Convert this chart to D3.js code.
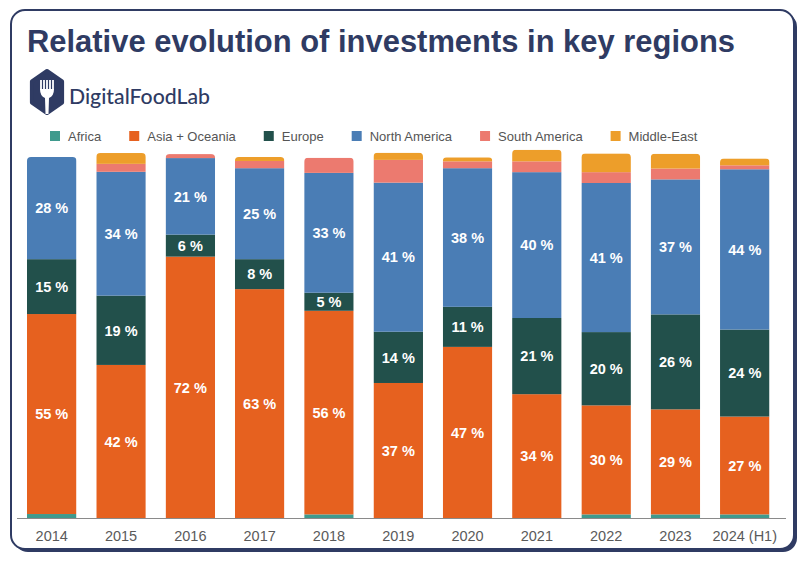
<!DOCTYPE html>
<html>
<head>
<meta charset="utf-8">
<script src="https://cdn.jsdelivr.net/npm/d3@7"></script>
<style>
  html, body { margin: 0; padding: 0; background: #ffffff; }
  svg { display: block; }
</style>
</head>
<body>
<div id="chart"></div>
<script>
// ---- Data (percent share of investments by region) ----
const years = ["2014", "2015", "2016", "2017", "2018", "2019", "2020", "2021", "2022", "2023", "2024 (H1)"];
const seriesNames = ["Africa", "Asia + Oceania", "Europe", "North America", "South America", "Middle-East"];
const africa       = [1.1, 0,    0,    0,    1.0,  0,    0,    0,    1.0,  1.0,  1.0];
const asiaOceania  = [55.4, 42.4, 72.4, 63.4, 56.4, 37.4, 47.4, 34.3, 30.2, 29.1, 27.1];
const europe       = [15.2, 19.2, 6.1,  8.3,  5.0,  14.2, 11.1, 21.1, 20.3, 26.3, 24.1];
const northAmerica = [28.3, 34.3, 21.2, 25.2, 33.2, 41.3, 38.4, 40.4, 41.3, 37.4, 44.4];
const southAmerica = [0,    2.2,  1.1,  2.0,  4.2,  6.3,  1.9,  3.0,  3.0,  3.0,  1.1];
const middleEast   = [0,    3.0,  0,    1.1,  0,    2.0,  1.1,  3.2,  5.2,  4.1,  1.9];
const labelledSeries = ["Asia + Oceania", "Europe", "North America"];

const colors = ["#3f9a8d", "#e6611f", "#22504b", "#4a7db5", "#ec7a6f", "#ed9e2a"];

// ---- Build table ----
const seriesValues = [africa, asiaOceania, europe, northAmerica, southAmerica, middleEast];
const table = years.map((yr, i) => {
  const row = { year: yr };
  seriesNames.forEach((s, k) => row[s] = seriesValues[k][i]);
  return row;
});

const W = 811, H = 561;
const svg = d3.select("#chart").append("svg").attr("width", W).attr("height", H);

// ---- Frame with offset shadow ----
const navy = "#2f3b63";
svg.append("rect").attr("x", 14).attr("y", 13).attr("width", 783).attr("height", 539)
  .attr("rx", 14).attr("fill", navy);
svg.append("rect").attr("x", 11).attr("y", 10).attr("width", 783).attr("height", 539)
  .attr("rx", 14).attr("fill", "#ffffff").attr("stroke", navy).attr("stroke-width", 2);

// ---- Title ----
svg.append("text")
  .attr("x", 27).attr("y", 52)
  .attr("font-family", "'Liberation Sans', Arial, Helvetica, sans-serif")
  .attr("font-weight", "bold").attr("font-size", 31)
  .attr("fill", navy)
  .attr("textLength", 708).attr("lengthAdjust", "spacingAndGlyphs")
  .text("Relative evolution of investments in key regions");

// ---- Logo ----
const logo = svg.append("g").attr("transform", "translate(47,92)");
const hexR = 21;
const hexPts = d3.range(6).map(k => {
  const a = Math.PI / 180 * (60 * k - 90);
  return [hexR * Math.cos(a) * 0.83, hexR * Math.sin(a)];
});
logo.append("path")
  .attr("d", d3.line().curve(d3.curveLinearClosed)(hexPts))
  .attr("fill", navy).attr("stroke", navy).attr("stroke-width", 4).attr("stroke-linejoin", "round");
// fork
const fork = logo.append("g").attr("fill", "#ffffff");
[-6, -3, 0, 3, 6].forEach(dx => fork.append("rect").attr("x", dx - 0.9).attr("y", -12).attr("width", 1.8).attr("height", 10));
fork.append("path").attr("d", "M-7,-3 L7,-3 Q7,4 2,6 L1.5,22 L-1.5,22 L-2,6 Q-7,4 -7,-3 Z");
svg.append("text")
  .attr("x", 69).attr("y", 104)
  .attr("font-family", "Lato, 'Open Sans', Arial, sans-serif")
  .attr("font-size", 22).attr("font-weight", 500).attr("fill", navy)
  .attr("textLength", 141).attr("lengthAdjust", "spacingAndGlyphs")
  .text("DigitalFoodLab");

// ---- Legend ----
const legend = svg.append("g").attr("transform", "translate(50,136)");
let lx = 0;
seriesNames.forEach((s, k) => {
  const g = legend.append("g").attr("transform", `translate(${lx},0)`);
  g.append("rect").attr("x", 0).attr("y", -5).attr("width", 10).attr("height", 10).attr("fill", colors[k]);
  const t = g.append("text").attr("x", 18).attr("y", 4.5)
    .attr("font-family", "'Liberation Sans', Arial, sans-serif")
    .attr("font-size", 13).attr("fill", "#555").text(s);
  lx += 18 + t.node().getComputedTextLength() + 28;
});

// ---- Scales ----
const x = d3.scaleBand().domain(years).range([17.5, 779]).paddingInner(0.286).paddingOuter(0.137);
const y = d3.scaleLinear().domain([0, 100]).range([518, 157]);
const color = d3.scaleOrdinal().domain(seriesNames).range(colors);

const stacked = d3.stack().keys(seriesNames)(table);

// clip paths for rounded tops
const defs = svg.append("defs");
table.forEach((row, i) => {
  const total = d3.sum(seriesNames, s => row[s]);
  defs.append("clipPath").attr("id", "clip" + i)
    .append("rect")
    .attr("x", x(row.year)).attr("y", y(total))
    .attr("width", x.bandwidth()).attr("height", y(0) - y(total) + 10)
    .attr("rx", 4);
});

const barsG = svg.append("g");
table.forEach((row, i) => {
  const g = barsG.append("g").attr("clip-path", `url(#clip${i})`);
  stacked.forEach(layer => {
    const d = layer[i];
    if (d[1] - d[0] <= 0) return;
    g.append("rect")
      .attr("x", x(row.year))
      .attr("y", y(d[1]))
      .attr("width", x.bandwidth())
      .attr("height", y(d[0]) - y(d[1]))
      .attr("fill", color(layer.key));
  });
});

// labels
const labG = svg.append("g");
stacked.filter(l => labelledSeries.includes(l.key)).forEach(layer => {
  layer.forEach((d, i) => {
    const v = d[1] - d[0];
    if (v < 3) return;
    labG.append("text")
      .attr("x", x(years[i]) + x.bandwidth() / 2)
      .attr("y", (y(d[0]) + y(d[1])) / 2)
      .attr("dy", "0.36em")
      .attr("text-anchor", "middle")
      .attr("font-family", "'Liberation Sans', Arial, sans-serif")
      .attr("font-weight", "bold").attr("font-size", 14.5)
      .attr("fill", "#ffffff")
      .text(Math.round(v) + " %");
  });
});

// ---- Axis ----
const axis = svg.append("g").attr("transform", `translate(0,${y(0)})`)
  .call(d3.axisBottom(x).tickSize(0).tickPadding(13).tickSizeOuter(0));
axis.select(".domain").attr("stroke", "#8a8a8a").attr("d", "M17,0.5H786");
axis.selectAll("text")
  .attr("font-family", "'Liberation Sans', Arial, sans-serif")
  .attr("font-size", 14.5).attr("fill", "#5a5a5a");
</script>
</body>
</html>
